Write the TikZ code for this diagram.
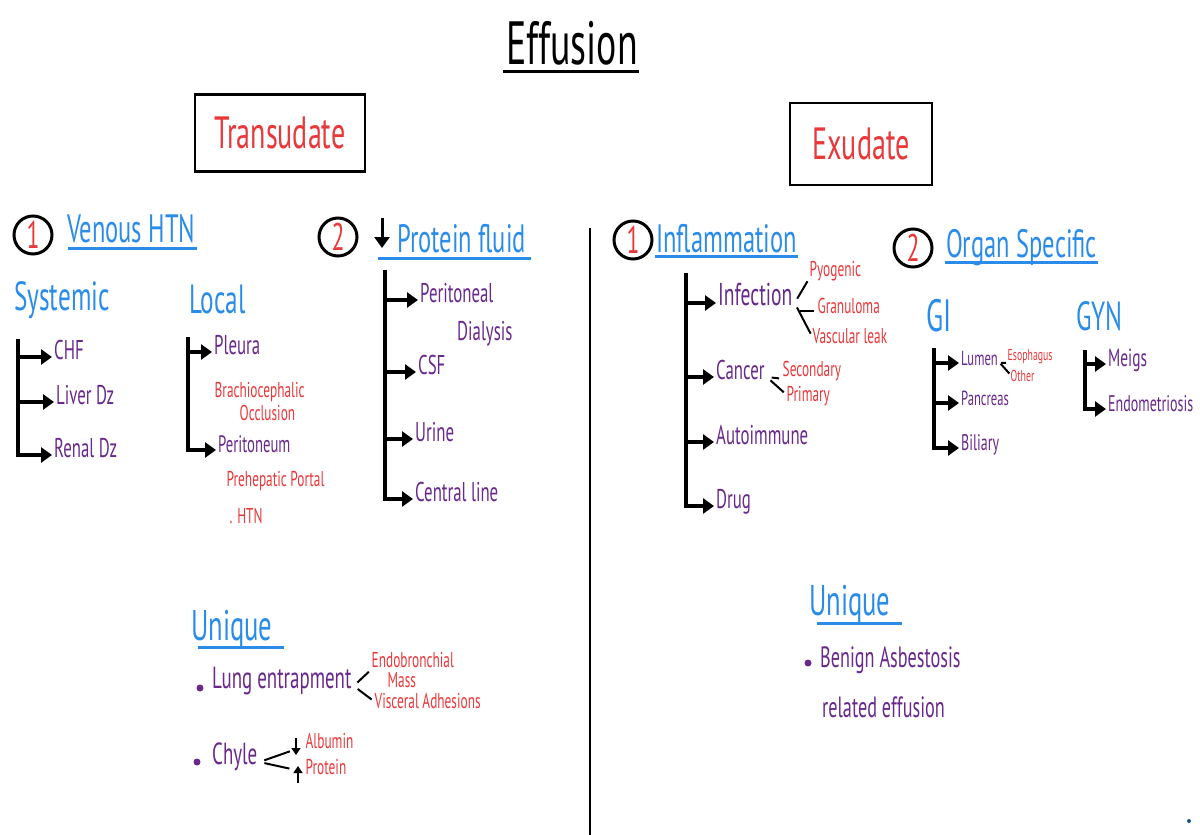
\documentclass[tikz,border=0pt]{standalone}
\usepackage{fontspec}
\setmainfont{PT Sans}[FakeStretch=0.62]
\usetikzlibrary{arrows.meta,positioning,calc}
\definecolor{penblue}{RGB}{42,140,232}
\definecolor{penred}{RGB}{232,56,58}
\definecolor{penpurple}{RGB}{104,40,140}
\newcommand{\fs}[1]{\fontsize{\fpeval{1.13*#1}}{\fpeval{1.13*#1}}\selectfont}

\begin{document}
\begin{tikzpicture}[x=1pt, y=-1pt,
    head/.style = {text=penblue, font=\fs{35}, anchor=base west, inner sep=1pt},
    sub/.style = {text=penblue, font=\fs{36}, anchor=base west, inner sep=1pt},
    item/.style = {text=penpurple, font=\fs{24}, anchor=west, inner sep=2pt, text height=.7em, text depth=.2em},
    note/.style = {text=penred, font=\fs{19}, anchor=west, inner sep=.5pt, text height=.65em, text depth=.15em},
    num/.style = {draw, circle, line width=3pt, minimum size=38pt, inner sep=0pt, text=penred, font=\fs{34}},
    box/.style = {draw, line width=2.5pt, text=penred, font=\fs{40}},
    spine/.style = {line width=3.5pt},
    arr/.style = {line width=3.5pt, -{Triangle[length=11pt,width=15pt]}},
    tick/.style = {line width=2.4pt, -{Triangle[length=7pt,width=9pt]}},
    twig/.style = {line width=2pt, shorten <=5pt, shorten >=3pt},
    uline/.style = {line width=3pt, penblue},
    dot/.style = {circle, fill=penpurple, inner sep=0pt, minimum size=7pt}]

    \useasboundingbox (0,0) rectangle (1200,835);

    \node[font=\fs{54}, anchor=base, inner sep=1pt] (title) at (572,64) {Effusion};
    \draw[line width=3pt] ($(title.base west)+(-2,7)$) -- ($(title.base east)+(0,7)$);

    \node[box, minimum width=170pt, minimum height=77pt] (trans) at (280,133) {Transudate};
    \node[box, minimum width=142pt, minimum height=82pt] (exud) at (861,144) {Exudate};

    \draw[line width=2.5pt] (590,228) -- (590,835);

    \node[num] (n1) at (33,235) {1};
    \node[head] (venous) at (66,242) {Venous HTN};
    \draw[uline] ($(venous.base west)+(2,6)$) -- ($(venous.base east)+(0,6)$);

    \node[num] (n2) at (338,237) {2};
    \draw[arr, line width=3pt] (382,218) -- (382,248);
    \node[head] (protein) at (396,252) {Protein fluid};
    \draw[uline] ($(protein.base west)+(-18,6)$) -- ($(protein.base east)+(4,6)$);

    \node[num] (n3) at (633,240) {1};
    \node[head] (inflam) at (655,252) {Inflammation};
    \draw[uline] ($(inflam.base west)+(0,4)$) -- ($(inflam.base east)+(0,4)$);

    \node[num] (n4) at (913,248) {2};
    \node[head] (organ) at (945,257) {Organ Specific};
    \draw[uline] ($(organ.base west)+(0,5)$) -- ($(organ.base east)+(0,5)$);

    \node[sub] (systemic) at (13,310) {Systemic};
    \node[sub] (local) at (188,313) {Local};
    \node[sub, font=\fs{40}] (gi) at (925,331) {GI};
    \node[sub] (gyn) at (1075,330) {GYN};

    \node[item] (chf) at (52,357) {CHF};
    \node[item] (liver) at (54,402) {Liver Dz};
    \node[item] (renal) at (52,455) {Renal Dz};
    \coordinate (s0) at (18,339);
    \draw[spine] (s0) -- (s0 |- chf.west);
    \draw[arr] (s0 |- chf.west) -- (chf.west);
    \draw[arr] (s0 |- liver.west) -- (liver.west);
    \draw[arr] (s0) |- (renal.west);

    \node[item] (pleura) at (212,352) {Pleura};
    \node[note] (brachio) at (214,395) {Brachiocephalic};
    \node[note] (occl) at (239,418) {Occlusion};
    \node[item, font=\fs{21}] (perit) at (216,450) {Peritoneum};
    \node[note] (prehep) at (226,484) {Prehepatic Portal};
    \node[note] (htn) at (229,521) {. HTN};
    \coordinate (l0) at (188,337);
    \draw[arr] (l0 |- pleura.west) -- (pleura.west);
    \draw[arr] (l0) |- (perit.west);

    \node[item] (peritoneal) at (418,300) {Peritoneal};
    \node[item] (dialysis) at (455,338) {Dialysis};
    \node[item] (csf) at (416,372) {CSF};
    \node[item] (urine) at (413,439) {Urine};
    \node[item] (central) at (413,499) {Central line};
    \coordinate (p0) at (385,270);
    \draw[arr] (p0 |- peritoneal.west) -- (peritoneal.west);
    \draw[arr] (p0 |- csf.west) -- (csf.west);
    \draw[arr] (p0 |- urine.west) -- (urine.west);
    \draw[arr] (p0) |- (central.west);

    \node[item, font=\fs{28}] (infection) at (716,303) {Infection};
    \node[note] (pyogenic) at (809,274) {Pyogenic};
    \node[note] (granuloma) at (817,311) {Granuloma};
    \node[note] (vascular) at (812,341) {Vascular leak};
    \node[item] (cancer) at (714,377) {Cancer};
    \node[note] (secondary) at (782,374) {Secondary};
    \node[note] (primary) at (786,399) {Primary};
    \node[item] (auto) at (714,442) {Autoimmune};
    \node[item] (drug) at (714,506) {Drug};
    \coordinate (i0) at (686,273);
    \draw[arr] (i0 |- infection.west) -- (infection.west);
    \draw[arr] (i0 |- cancer.west) -- (cancer.west);
    \draw[arr] (i0 |- auto.west) -- (auto.west);
    \draw[arr] (i0) |- (drug.west);
    \draw[twig] (infection.east) -- (pyogenic.south west);
    \draw[twig] (infection.east |- granuloma.west) -- (granuloma.west);
    \draw[twig] (infection.east) -- (vascular.north west);
    \draw[twig] (cancer.east) -- (secondary.south west);
    \draw[twig] (cancer.east) -- (primary.north west);

    \node[item, font=\fs{18}] (lumen) at (959,363) {Lumen};
    \node[note, font=\fs{14}] (esoph) at (1007,358) {Esophagus};
    \node[note, font=\fs{14}] (other) at (1010,379) {Other};
    \node[item, font=\fs{18}] (pancreas) at (959,403) {Pancreas};
    \node[item, font=\fs{20}] (biliary) at (959,448) {Biliary};
    \coordinate (g0) at (934,348);
    \draw[arr] (g0 |- lumen.west) -- (lumen.west);
    \draw[arr] (g0 |- pancreas.west) -- (pancreas.west);
    \draw[arr] (g0) |- (biliary.west);
    \draw[twig, shorten <=1pt, shorten >=1pt] (lumen.east) -- (esoph.south west);
    \draw[twig, shorten <=1pt, shorten >=1pt] (lumen.east) -- (other.north west);

    \node[item, font=\fs{22}] (meigs) at (1106,364) {Meigs};
    \node[item, font=\fs{20}] (endo) at (1106,409) {Endometriosis};
    \coordinate (y0) at (1085,350);
    \draw[arr] (y0 |- meigs.west) -- (meigs.west);
    \draw[arr] (y0) |- (endo.west);

    \node[sub, font=\fs{38}] (uniq1) at (190,640) {Unique};
    \draw[uline] ($(uniq1.base west)+(8,7)$) -- ($(uniq1.base east)+(10,7)$);
    \node[dot] (b1) at (200,688) {};
    \node[item, font=\fs{27}] (lung) at (210,686) {Lung entrapment};
    \node[note] (endob) at (371,665) {Endobronchial};
    \node[note] (mass) at (387,685) {Mass};
    \node[note] (visc) at (374,706) {Visceral Adhesions};
    \draw[twig] (lung.east) -- (endob.south west);
    \draw[twig] (lung.east) -- (visc.north west);

    \node[dot] (b2) at (197,762) {};
    \node[item, font=\fs{27}] (chyle) at (210,762) {Chyle};
    \node[note] (albumin) at (305,746) {Albumin};
    \node[note] (prot) at (305,772) {Protein};
    \draw[tick] ($(albumin.west)+(-9,-8)$) -- ($(albumin.west)+(-9,9)$);
    \draw[tick] ($(prot.west)+(-7,11)$) -- ($(prot.west)+(-7,-6)$);
    \draw[twig, shorten >=16pt] (chyle.east) -- (albumin.west);
    \draw[twig, shorten >=16pt] (chyle.east) -- (prot.west);

    \node[sub, font=\fs{38}] (uniq2) at (808,615) {Unique};
    \draw[uline] ($(uniq2.base west)+(9,8)$) -- ($(uniq2.base east)+(10,8)$);
    \node[dot] (b3) at (808,663) {};
    \node[item, font=\fs{26}] (benign) at (818,665) {Benign Asbestosis};
    \node[item, font=\fs{26}] (related) at (820,715) {related effusion};

    \node[dot, fill=penblue!60!black, minimum size=4pt] (speck) at (1189,821) {};

\end{tikzpicture}
\end{document}
